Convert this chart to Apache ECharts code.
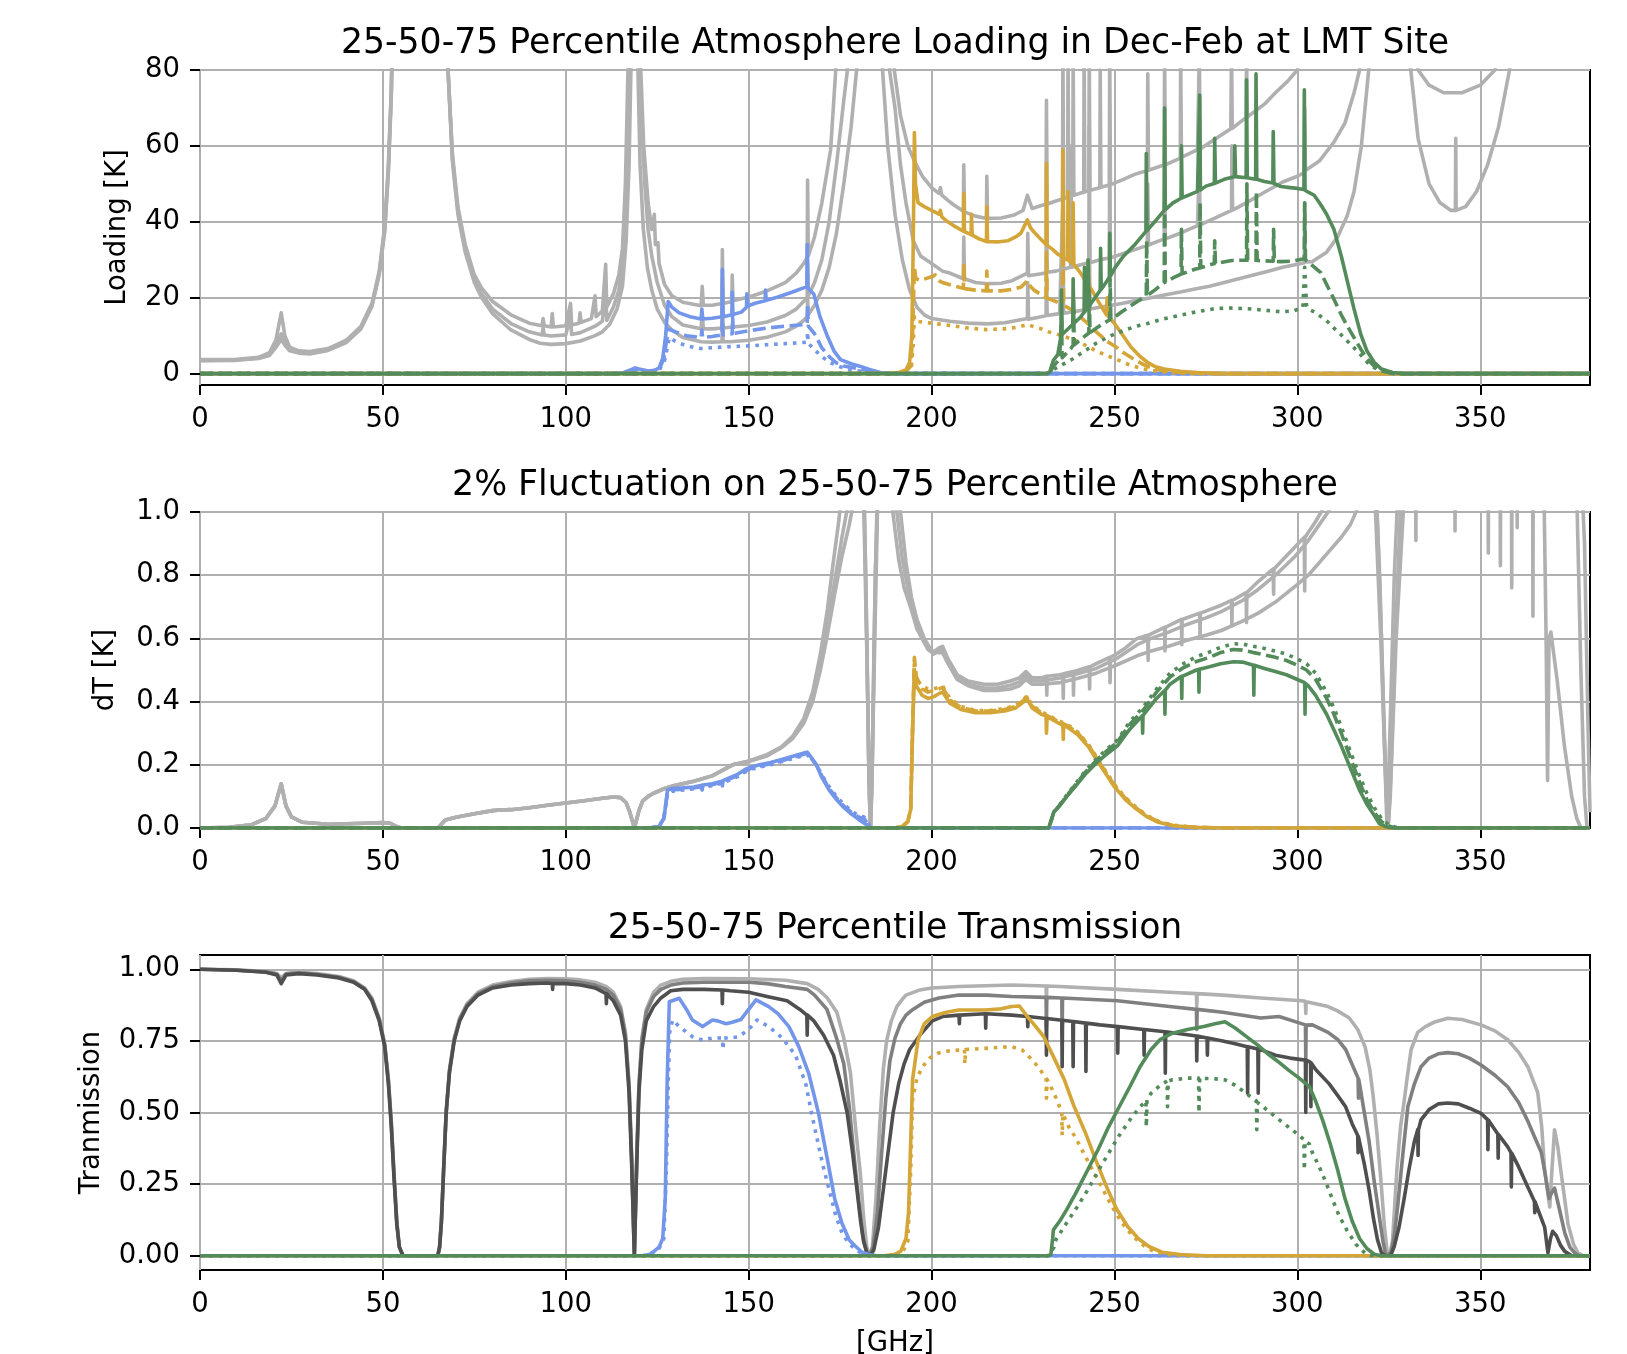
<!DOCTYPE html>
<html>
<head>
<meta charset="utf-8">
<script src="https://cdn.jsdelivr.net/npm/echarts@6/dist/echarts.min.js"></script>
<style>
  html, body { margin: 0; padding: 0; background: #fff; }
  #chart { width: 1627px; height: 1354px; }
</style>
</head>
<body>
<div id="chart"></div>
<script>
// tick labels
const ticksX = [0, 50, 100, 150, 200, 250, 300, 350]
const ticksLoad = [0, 20, 40, 60, 80]
const ticksDT = [0, 0.2, 0.4, 0.6, 0.8, 1.0]
const ticksTr = [0, 0.25, 0.5, 0.75, 1.0]

// ---- panel 1: atmosphere loading [K] ----
const loadGrayHi = [[0,3.7],[10,3.8],[16,4.3],[19,5.5],[20.8,9],[22.2,16],[23.2,10],[24.5,7],[27,6],[30,5.8],[35,6.6],[40,8.8],[44,12.5],[47,18.5],[49,27],[50.5,39],[51.5,55],[52.3,75],[53,110],[60,300],[67,110],[67.8,80],[69,58],[70.5,44],[72.5,34],[75,26],[77,22.5],[80,19],[85,15.5],[90,13.3],[93.5,12.6],[93.8,14.5],[94.1,12.6],[96,12.3],[96.3,15.8],[96.6,12.3],[100,12.6],[101.3,18.5],[101.6,12.8],[103.6,13.3],[103.9,16],[104.2,13.5],[107,14.5],[108,20.5],[108.3,15],[110,16.5],[110.9,28.8],[111.2,17.5],[113,21],[114.5,26],[115.5,33],[116.3,50],[117,80],[118,150],[118.75,300],[119.5,150],[120.5,80],[121.3,60],[122.5,45],[123.5,38],[124.2,42],[124.5,34],[125.2,34.5],[125.5,29],[127,23.5],[129,20.5],[132,18.8],[137,17.9],[137.3,23],[137.6,18],[140,18],[142.7,18.5],[142.8,32.7],[143,18.5],[145.4,19],[145.5,26],[145.7,19.2],[150,20.2],[152,20.8],[155,21.8],[160,24],[163,26.5],[165,29],[166,30.5],[166.1,51],[166.3,31],[168,36],[170,45],[172.4,59],[173.8,80],[175,120],[183,400],[189,120],[189.8,80],[191.5,68],[193.5,60],[195.3,56],[197.5,52],[200,49],[202,47.5],[202.4,49],[202.8,47],[204.4,45.7],[206,44.5],[208.7,42.8],[208.8,55],[209,42.6],[212,41.5],[215,40.9],[215.1,52],[215.3,40.9],[219,41],[222.6,41.8],[225,43],[226.2,47],[227.5,43.5],[230,44.3],[231.3,44.6],[231.4,72],[231.6,44.7],[234,45.5],[235.8,46],[235.9,85],[236.1,46],[237.2,46.6],[237.3,85],[237.5,46.6],[238.6,47],[238.7,85],[238.9,47],[240.5,47.5],[241.6,47.8],[241.7,85],[241.9,47.9],[243,48.3],[243.1,85],[243.3,48.3],[246,49],[246.1,80],[246.3,49.1],[248.6,49.7],[248.7,85],[248.9,49.8],[252,51],[255.5,52.5],[259,53.5],[259.1,79],[259.3,53.6],[263.6,55],[263.7,85],[263.9,55],[268,56.8],[268.1,85],[268.3,57],[272.7,59],[273.2,85],[273.4,59.2],[277,61.5],[281.8,64.5],[282,85],[282.2,64.6],[286,67.5],[286.1,85],[286.3,67.6],[291,71],[294,74],[297.3,77],[300,80],[302,90],[310,130],[325,300],[340,200],[360,300],[380,300]]
const loadGrayMid = [[0,3.5],[10,3.6],[16,4.1],[19,5.1],[20.8,7.8],[22.2,10.5],[23.2,8.2],[24.5,6.3],[27,5.6],[30,5.4],[35,6.3],[40,8.4],[44,12],[47,18],[49,26.5],[50.5,38],[51.5,54],[52.3,74],[53,110],[60,300],[67,110],[67.8,80],[69,57],[70.5,43],[72.5,33],[75,25],[77,21],[80,17],[85,13.2],[90,11],[93.5,10.2],[93.8,12],[94.1,10.2],[96,9.9],[100,10.2],[101.3,15],[101.6,10.3],[104,10.8],[108,12.5],[110,13.8],[110.9,22],[111.2,14],[113,17.5],[114.5,22],[115.5,28],[116.3,42],[117,65],[117.5,90],[118.75,300],[120,90],[120.8,65],[121.6,50],[122.5,38],[123.5,31],[125,24],[127,18],[129,15],[132,12.8],[137,11.8],[137.3,16],[137.6,11.8],[140,11.8],[142.7,12],[142.8,25],[143,12],[145,12.2],[150,12.7],[155,13.6],[160,15.3],[163,17],[165,19],[166,20],[166.1,30],[166.3,20.5],[168,24],[170,30],[172,40],[174,55],[176,72],[177,80],[178,100],[183,400],[187,100],[188.5,80],[190,70],[191.5,55],[193,45],[195,35],[197,31],[200,29],[203,27],[205,26.5],[208.7,25],[208.8,36],[209,25],[212,24],[215.3,23.7],[219,23.8],[222,24.5],[226.2,26.5],[226.3,37],[226.5,25.8],[230,26.3],[231.3,26.6],[231.4,45],[231.6,26.7],[234,27],[235.8,27.5],[235.9,70],[236.1,27.5],[238,28],[238.1,60],[238.3,28],[240.5,28.6],[243,29.2],[243.1,65],[243.3,29.2],[246,30],[248.6,30.5],[248.7,60],[248.9,30.5],[252,31.5],[256,32.8],[259,33.8],[259.1,50],[259.3,33.9],[263.6,35.5],[263.7,60],[263.9,35.5],[268,37],[272.7,39],[273.2,55],[273.4,39.2],[277,40.8],[282,43],[282.1,60],[282.3,43.1],[286,45],[291,47.8],[296,50.5],[300,52],[301.9,53],[302,70],[302.2,53.5],[306,56],[310,61],[313,66],[315.5,74],[317,80],[318,90],[325,300],[331,90],[333,80],[336,76],[340,74],[345,74],[350,76],[354,80],[356,95],[362,300],[380,300]]
const loadGrayLo = [[0,3.4],[10,3.5],[16,4],[19,4.8],[20.8,7],[22.2,9],[23.2,7.5],[24.5,6],[27,5.4],[30,5.2],[35,6.1],[40,8.2],[44,11.8],[47,17.7],[49,26],[50.5,37.5],[51.5,53],[52.3,73],[53,110],[60,300],[67,110],[67.8,80],[69,56],[70.5,42],[72.5,32],[75,24],[77,20],[80,15.8],[85,11.5],[90,9],[93,8],[96,7.7],[100,7.9],[104,8.6],[108,10],[110,11],[112,13],[114,17],[115.5,23],[116.5,35],[117.3,55],[118,90],[118.75,300],[119.5,90],[120.3,55],[121.2,38],[122.3,28],[123.5,22],[125,17],[127,13.5],[129,11.5],[132,9.5],[137,8.4],[140,8.3],[142.7,8.4],[142.8,14],[143,8.4],[145,8.4],[150,8.8],[155,9.6],[160,11],[163,12.5],[165,14],[166,15],[166.1,20],[166.3,15.5],[168,18],[170,22],[172,28],[174,37],[176,50],[178,65],[179.5,80],[181,110],[183,400],[185,110],[186.6,80],[188,60],[190,42],[192,30],[194,22],[196,17.5],[198,15.5],[200,14.5],[205,13.8],[210,13.3],[215.3,13.1],[220,13.4],[226.2,14.5],[226.3,24],[226.5,14.3],[230,15],[231.3,15.3],[231.4,30],[231.6,15.3],[235,15.8],[235.9,45],[236.1,15.9],[238,16.2],[240,16.5],[243,17],[243.1,40],[243.3,17],[248,17.8],[252,18.5],[256,19.3],[260,20],[264,20.8],[268,21.5],[272,22.3],[276,23],[280,24],[284,25],[288,26],[292,27],[296,28],[300,28.8],[301.9,29.2],[302,45],[302.2,29.4],[304,29.5],[308,32],[311,36],[313.6,41.5],[315.5,48],[317.5,60],[319.5,80],[321,110],[325,300],[328,110],[331,80],[333,62],[336,50],[339,45],[342,43],[343.2,43],[343.3,62],[343.4,43],[346,44],[349,48],[352,55],[355,65],[358,80],[360,110],[366,300],[380,300]]

const loadBlueSolid = [[0,0],[114,0],[116,0.3],[118,1.1],[119,1.5],[120,1.2],[122,0.8],[124,0.7],[125.5,1.5],[126.5,4],[127.3,10],[128,19],[129,17.5],[131,16],[134,15],[137,14.4],[137.2,17],[137.4,14.4],[140,14.6],[142.7,15],[142.8,27.5],[143,15],[145.4,15.5],[145.5,21.5],[145.7,15.6],[148,16.2],[149.4,17.5],[149.5,21],[149.7,17.8],[152,18.6],[154.5,19.2],[154.6,22],[154.8,19.3],[158,20.2],[162,21.5],[165,22.6],[165.9,23],[166,34],[166.2,22.5],[167.8,21],[169.5,15],[171.5,9.9],[173.3,6],[175.1,3.7],[178,2.6],[180.6,1.9],[183,1.1],[186,0.3],[188,0],[380,0]]
const loadBlueDash = [[0,0],[114,0],[118,0.8],[119,1.1],[122,0.6],[125.5,1],[126.8,4],[127.6,9],[128.2,11.7],[130,11],[133,10],[137,9.5],[137.2,11.5],[137.4,9.5],[140,9.8],[142.7,10.2],[142.8,17],[143,10.2],[145.5,10.5],[145.6,15],[145.8,10.6],[150,11.3],[155,12],[160,12.5],[165,12.9],[166,13.2],[166.1,18],[166.3,12.5],[168,10.5],[170,6.8],[172,4.5],[174,2.8],[176,2],[180,1.3],[183,0.7],[186,0.1],[188,0],[380,0]]
const loadBlueDot = [[0,0],[114,0],[118,0.6],[119,0.9],[122,0.5],[125.5,0.8],[127,3.5],[127.8,7],[128.3,9.5],[130,8.5],[133,7.3],[137,6.6],[140,6.8],[142.7,7],[145,7.1],[150,7.3],[155,7.6],[160,7.9],[165,8.2],[166,8.3],[166.1,11],[166.3,8],[168,6.3],[170,4.5],[172,3],[175,1.8],[178,1],[182,0.4],[186,0],[380,0]]

const loadGoldSolid = [[0,0],[188,0],[191,0.3],[193,1],[194,3],[194.6,10],[195,35],[195.3,63.5],[195.6,50],[196.3,45],[198,44],[200,43],[202,42],[202.4,43],[202.8,41.3],[204.4,40],[206,39],[208.7,37.5],[208.8,47.5],[209,37.4],[210.8,36.6],[210.9,42],[211.1,36.5],[213,35.5],[215,34.8],[215.1,44],[215.3,34.8],[218,34.7],[220.8,35],[223,36],[224.4,37],[226.2,40.5],[227,38.5],[228,37.3],[230,35.3],[231.3,34],[231.4,55.4],[231.6,33.8],[233,32.8],[234.5,31.5],[235.8,30.8],[235.9,58.9],[236.1,30.5],[237.2,30],[237.3,48],[237.5,29.8],[238.6,29],[238.7,45],[238.9,28.8],[240.8,26.4],[242.7,23.6],[242.8,30],[243,23.3],[245.4,19.3],[247.8,15.5],[248,20],[248.2,15.2],[250,13.2],[252,10.5],[254.5,7],[257,4.5],[259,3],[261,1.9],[263.6,1.2],[268,0.6],[272.7,0.3],[280,0],[380,0]]
const loadGoldDash = [[0,0],[190,0],[193,0.5],[194.3,2],[194.8,10],[195.3,28],[195.7,25],[197,24.6],[200,25.5],[201,26],[202,24.5],[203,24],[205,23.4],[208.7,22.5],[208.8,29],[209,22.4],[212,22],[215,21.8],[215.1,27],[215.3,21.8],[219,21.8],[222,22.2],[224.5,22.8],[226.2,24.5],[227,23],[228,22],[230,20.8],[231.3,20],[231.4,32],[231.6,19.9],[234,19],[235.8,18.2],[235.9,35],[236.1,18],[238,17],[240,15.5],[242.7,13.2],[245,11],[248,8.5],[250,7.3],[252.5,5.5],[255,4],[257.5,2.6],[260,1.5],[263,0.8],[268,0.3],[275,0],[380,0]]
const loadGoldDot = [[0,0],[190,0],[193,0.3],[194.5,2],[195,8],[195.3,15],[196,13.8],[198,13.5],[200,13.3],[205,12.7],[210,12],[215,11.6],[220,11.8],[224,12.3],[226.2,13],[228,12.3],[230,11.8],[232,11],[235,10.2],[238,9.2],[240,8.5],[243,7],[245,6],[248,4.7],[250,4],[253,2.7],[255,2],[258,1.2],[260,0.8],[265,0.3],[270,0],[380,0]]

const loadGreenSolid = [[0,0],[231.5,0],[232.3,0.4],[232.8,2],[233.3,3.5],[234.5,5],[235.4,10],[235.5,22],[235.7,10.3],[237,11.5],[238.6,13],[238.7,25],[238.9,13.2],[240.8,15],[241.7,16.2],[241.8,28],[242,16.4],[242.7,17.5],[242.8,30],[243,17.7],[245.4,21],[246.1,22],[246.2,33],[246.4,22.2],[248,24.5],[248.6,25.5],[248.7,37],[248.9,25.7],[250.2,28],[252.5,31],[255.4,33.8],[258.6,37.5],[258.7,58],[258.9,37.7],[261,40],[263.6,43],[263.7,70],[263.9,43.2],[266,45],[268.2,46.2],[268.3,60],[268.5,46.3],[272.7,48],[273.2,48.3],[273.3,73.4],[273.5,48.4],[275,49.4],[277.3,50.1],[277.4,62],[277.6,50.2],[280,51.2],[282.8,51.9],[282.9,60],[283.1,51.9],[286,51.6],[286.1,77.4],[286.3,51.6],[288.6,51.2],[288.7,79],[288.9,51.2],[291,50.6],[293.3,50.2],[293.4,63.8],[293.6,50.1],[295.5,49.3],[298,49],[300,48.8],[301.8,48.5],[301.9,74.8],[302.1,48.3],[303,47.8],[304.6,47],[306.4,44.5],[308,42],[310,38],[312,31],[314,23],[315.5,17],[317.3,10.5],[319,6],[321,3],[323,1.2],[326,0.3],[329,0],[380,0]]
const loadGreenDash = [[0,0],[231.5,0],[232.5,0.5],[233.3,2],[235,3.8],[235.4,4],[235.5,15],[235.7,4.2],[238,6.5],[238.7,7.5],[238.8,20],[239,7.6],[241,9.2],[243,10.7],[243.1,22],[243.3,10.8],[245.5,12.3],[248,13.8],[248.7,14.2],[248.8,25],[249,14.3],[250.2,15],[252,16.3],[255.4,18.5],[258.7,20.5],[258.8,35],[259,20.6],[261,22],[263.6,24],[263.7,45],[263.9,24.1],[266,25.2],[268.2,26.2],[268.3,38],[268.5,26.3],[272,27.5],[273.3,27.8],[273.4,45],[273.6,27.9],[277.3,29],[277.4,35],[277.6,29],[282,29.8],[286.1,29.9],[286.2,50],[286.4,29.9],[288.7,29.9],[288.8,48],[289,29.8],[293.4,29.6],[293.5,38],[293.7,29.6],[295.5,29.5],[298,29.6],[300.5,30],[301.9,30.3],[302,45],[302.2,30],[303.5,29],[306.4,26.6],[308,23.5],[310,19.6],[312,15.5],[313.6,12.6],[315.5,9.5],[317.3,6.5],[319,4],[320.9,2.1],[323,0.8],[326,0],[380,0]]
const loadGreenDot = [[0,0],[231.5,0],[232.5,0.3],[233.5,1.2],[236,2.5],[238,3.5],[240.8,5.3],[243,6.7],[245,8],[248,9.5],[250.2,10.5],[253,11.5],[256,12.5],[259,13.2],[263,14.3],[268.2,15.4],[272,16.2],[277.3,17.1],[281,17.3],[286.4,17.1],[290,16.8],[295.5,16.3],[299,16.5],[301.5,17.5],[302,28],[302.5,18],[303,17],[305,16.1],[308.5,13.5],[310,12],[312.2,10],[315,7.3],[317,5.3],[319.1,3],[321,1.6],[323,0.7],[326,0.1],[330,0],[380,0]]

// ---- panel 2: 2% fluctuation dT [K] ----
const dtGrayHi = [[0,0],[8,0.002],[14,0.01],[18,0.03],[20.5,0.07],[22.2,0.14],[23.5,0.07],[25,0.035],[28,0.018],[35,0.012],[45,0.015],[50,0.017],[52,0.015],[53.5,0.006],[55,0],[65,0],[65.7,0.008],[67,0.025],[70,0.034],[75,0.045],[80,0.055],[82,0.057],[85,0.058],[90,0.064],[95,0.072],[100,0.079],[105,0.086],[110,0.094],[113,0.098],[115,0.096],[116.5,0.08],[117.5,0.05],[118.4,0.015],[118.75,0],[119.2,0.02],[120,0.055],[121,0.085],[122.5,0.1],[124,0.11],[127,0.125],[130,0.135],[135,0.148],[140,0.165],[145.6,0.2],[150,0.212],[155,0.232],[159,0.257],[162,0.29],[165,0.345],[167.5,0.43],[169.6,0.55],[171.5,0.69],[173,0.83],[174.5,0.96],[175.4,1.05],[177,1.3],[180,1.4],[181.5,1.1],[182.3,0.6],[182.9,0.15],[183.3,0],[183.7,0.15],[184.3,0.6],[185.2,1.1],[186.5,1.4],[188,1.2],[189.4,1.0],[191,0.85],[192.5,0.76],[194.5,0.69],[196,0.63],[197.4,0.6],[199,0.565],[200.3,0.555],[202,0.57],[203,0.575],[204.5,0.535],[207,0.485],[210,0.465],[214.3,0.455],[218,0.455],[221.5,0.465],[224,0.475],[225.8,0.495],[227.5,0.475],[230,0.475],[231.4,0.48],[231.5,0.42],[231.6,0.48],[235,0.485],[235.9,0.487],[236,0.41],[236.1,0.488],[238.7,0.495],[238.8,0.42],[238.9,0.495],[240.3,0.5],[243.1,0.51],[243.2,0.44],[243.3,0.51],[245,0.52],[248.7,0.54],[248.8,0.46],[248.9,0.54],[250.4,0.55],[253,0.57],[256.2,0.6],[259.1,0.61],[259.2,0.53],[259.3,0.61],[263.7,0.635],[263.8,0.56],[263.9,0.635],[268.3,0.66],[268.4,0.58],[268.5,0.66],[273.3,0.68],[273.4,0.6],[273.5,0.68],[279.2,0.705],[282,0.72],[282.1,0.64],[282.2,0.72],[286,0.745],[286.1,0.65],[286.2,0.745],[289.3,0.78],[293.4,0.82],[293.5,0.74],[293.6,0.82],[299.4,0.89],[301.9,0.92],[302,0.75],[302.1,0.92],[305,0.97],[307,1.01],[310,1.1],[318,1.3],[321,1.2],[322.5,0.8],[323.7,0.3],[324.5,0],[325.3,0.3],[326.5,0.8],[328,1.2],[330,1.4],[332.3,1.3],[332.4,0.91],[332.5,1.3],[343,1.3],[343.1,0.94],[343.2,1.3],[352.1,1.3],[352.2,0.87],[352.3,1.3],[358.5,1.3],[358.6,0.76],[358.7,1.3],[364.3,1.3],[364.4,0.67],[364.5,1.3],[366.5,1.2],[367.5,1.0],[368,0.6],[368.4,0.15],[368.8,0.6],[369.3,0.62],[369.8,0.62],[371,0.47],[373,0.26],[375,0.1],[376.4,0.03],[377.5,0],[380,0]]
const dtGrayMid = [[0,0],[8,0.002],[14,0.01],[18,0.03],[20.5,0.07],[22.2,0.14],[23.5,0.07],[25,0.035],[28,0.018],[35,0.012],[45,0.015],[50,0.017],[52,0.015],[53.5,0.006],[55,0],[65,0],[65.7,0.008],[67,0.025],[70,0.034],[75,0.045],[80,0.055],[82,0.057],[85,0.058],[90,0.064],[95,0.072],[100,0.079],[105,0.086],[110,0.094],[113,0.098],[115,0.096],[116.5,0.08],[117.5,0.05],[118.4,0.015],[118.75,0],[119.2,0.02],[120,0.055],[121,0.085],[122.5,0.1],[124,0.11],[127,0.125],[130,0.135],[135,0.148],[140,0.165],[145.6,0.2],[150,0.211],[155,0.23],[159,0.255],[162,0.285],[165,0.335],[167.5,0.41],[169.6,0.52],[171.5,0.64],[173.5,0.78],[175.5,0.92],[177.6,1.05],[179,1.3],[181,1.3],[182,0.8],[182.8,0.2],[183.3,0],[183.8,0.2],[184.6,0.8],[186,1.3],[189,1.3],[190.5,1.0],[192,0.85],[193.5,0.76],[195,0.68],[197,0.61],[199,0.57],[200.5,0.55],[202,0.56],[203,0.565],[204.5,0.53],[207,0.475],[210,0.455],[214.3,0.443],[218,0.443],[221.5,0.452],[224,0.462],[225.8,0.485],[227.5,0.465],[230,0.465],[235,0.475],[240.3,0.49],[245,0.505],[250.4,0.535],[256.2,0.58],[260,0.6],[264.8,0.62],[270,0.645],[275,0.665],[279.2,0.685],[285,0.72],[289.3,0.755],[294,0.8],[299.4,0.86],[303,0.91],[306,0.96],[309,1.01],[312,1.1],[319,1.3],[321.5,1.1],[323,0.6],[324.2,0.15],[324.8,0],[325.5,0.15],[326.8,0.6],[328.5,1.1],[331,1.4],[355.4,1.3],[355.5,0.83],[355.6,1.3],[360,1.3],[360.1,0.95],[360.2,1.3],[375,1.3],[376.5,1.0],[377.5,0.5],[378.5,0.1],[379.2,0],[380,0]]
const dtGrayLo = [[0,0],[8,0.002],[14,0.01],[18,0.03],[20.5,0.07],[22.2,0.14],[23.5,0.07],[25,0.035],[28,0.018],[35,0.012],[45,0.015],[50,0.017],[52,0.015],[53.5,0.006],[55,0],[65,0],[65.7,0.008],[67,0.025],[70,0.034],[75,0.045],[80,0.055],[82,0.057],[85,0.058],[90,0.064],[95,0.072],[100,0.079],[105,0.086],[110,0.094],[113,0.098],[115,0.096],[116.5,0.08],[117.5,0.05],[118.4,0.015],[118.75,0],[119.2,0.02],[120,0.055],[121,0.085],[122.5,0.1],[124,0.11],[127,0.125],[130,0.135],[135,0.148],[140,0.165],[145.6,0.2],[150,0.21],[155,0.228],[159,0.255],[162,0.283],[165,0.33],[167.5,0.4],[169.6,0.5],[171.5,0.61],[173.5,0.74],[175.5,0.86],[177.5,0.96],[179,1.05],[180.5,1.3],[181.5,1.0],[182.4,0.5],[183,0.1],[183.3,0],[183.6,0.1],[184.3,0.5],[185.2,1.0],[186.5,1.3],[190,1.3],[191.5,1.0],[193,0.84],[194.5,0.73],[196,0.66],[198,0.6],[200,0.56],[202,0.555],[203,0.555],[204.5,0.52],[207,0.47],[210,0.45],[214.3,0.435],[218,0.435],[221.5,0.44],[224,0.45],[225.8,0.47],[227.5,0.455],[230,0.455],[235,0.46],[240.3,0.475],[245,0.49],[250.4,0.515],[256.2,0.545],[260,0.56],[264.8,0.575],[270,0.595],[275,0.61],[279.2,0.625],[285,0.655],[289.3,0.68],[294,0.715],[299.4,0.765],[303,0.8],[306,0.84],[309,0.88],[312,0.92],[314.5,0.96],[316.4,1.01],[319,1.15],[321,1.1],[322.8,0.6],[324.3,0.1],[324.8,0],[325.4,0.1],[327,0.6],[329.2,1.05],[331,1.3],[377,1.3],[378.5,0.9],[379.5,0.3],[380,0.05]]

const dtBlueSolid = [[0,0],[123,0],[125.5,0.005],[126.8,0.03],[127.4,0.08],[127.8,0.12],[129,0.125],[132,0.127],[135,0.13],[137.2,0.135],[137.3,0.12],[137.5,0.136],[140,0.14],[142.7,0.148],[142.8,0.133],[143,0.15],[145,0.16],[147,0.17],[149,0.185],[150.5,0.192],[153,0.2],[156,0.207],[160,0.22],[163,0.23],[165,0.237],[166,0.24],[167,0.225],[168.5,0.2],[170,0.16],[172,0.12],[174,0.09],[176,0.065],[178,0.045],[180,0.028],[182,0.012],[183.3,0],[380,0]]
const dtBlueDash = [[0,0],[123,0],[125.5,0.005],[126.8,0.03],[127.4,0.08],[127.8,0.115],[129,0.12],[132,0.123],[135,0.127],[140,0.137],[142.7,0.145],[145,0.156],[147,0.166],[149,0.18],[150.5,0.188],[153,0.196],[156,0.203],[160,0.216],[163,0.226],[165,0.233],[166,0.236],[167,0.222],[168.5,0.2],[170,0.165],[172,0.125],[174,0.095],[176,0.07],[178,0.05],[180,0.035],[181.5,0.03],[182.5,0.015],[183.3,0],[380,0]]
const dtBlueDot = [[0,0],[123,0],[125.5,0.005],[126.8,0.03],[127.4,0.08],[127.8,0.11],[129,0.116],[132,0.12],[135,0.124],[140,0.134],[142.7,0.142],[145,0.153],[147,0.163],[149,0.177],[150.5,0.185],[153,0.193],[156,0.2],[160,0.213],[163,0.223],[165,0.229],[166,0.232],[167,0.22],[168.5,0.2],[170,0.168],[172,0.13],[174,0.1],[176,0.075],[178,0.055],[180,0.04],[181.5,0.035],[182.5,0.02],[183.3,0],[380,0]]

const dtGoldSolid = [[0,0],[190,0],[192,0.005],[193.5,0.02],[194.3,0.06],[194.8,0.3],[195.3,0.5],[195.8,0.45],[197.4,0.42],[199,0.41],[200.5,0.415],[202,0.425],[203,0.43],[205,0.395],[208,0.375],[212,0.365],[216,0.365],[220,0.37],[223,0.38],[225.3,0.4],[226,0.41],[227.5,0.38],[230,0.36],[231.3,0.355],[231.4,0.3],[231.6,0.352],[235,0.33],[235.9,0.325],[236,0.28],[236.1,0.322],[237,0.32],[240,0.295],[243,0.255],[246,0.2],[248,0.165],[250,0.13],[253,0.09],[256,0.06],[259,0.035],[262,0.018],[266,0.007],[272,0.002],[280,0],[380,0]]
const dtGoldDash = [[0,0],[190,0],[192,0.005],[193.5,0.02],[194.3,0.06],[194.8,0.32],[195.3,0.54],[195.8,0.48],[197.4,0.44],[199,0.43],[200.5,0.435],[202,0.44],[203,0.445],[205,0.405],[208,0.382],[212,0.37],[216,0.37],[220,0.375],[223,0.385],[225.3,0.405],[226,0.415],[227.5,0.385],[230,0.365],[232,0.353],[235,0.335],[237,0.325],[240,0.3],[243,0.26],[246,0.205],[248,0.17],[250,0.135],[253,0.094],[256,0.063],[259,0.037],[262,0.02],[266,0.008],[272,0.002],[280,0],[380,0]]
const dtGoldDot = [[0,0],[190,0],[192,0.005],[193.5,0.02],[194.3,0.06],[194.8,0.31],[195.3,0.53],[195.8,0.47],[197.4,0.45],[199,0.44],[200.5,0.44],[202,0.445],[203,0.45],[205,0.41],[208,0.385],[212,0.372],[216,0.372],[220,0.378],[223,0.388],[225.3,0.408],[226,0.418],[227.5,0.388],[230,0.368],[232,0.356],[235,0.338],[237,0.328],[240,0.303],[243,0.263],[246,0.208],[248,0.173],[250,0.138],[253,0.096],[256,0.065],[259,0.039],[262,0.021],[266,0.009],[272,0.002],[280,0],[380,0]]

const dtGreenSolid = [[0,0],[232,0],[232.6,0.02],[233.4,0.05],[235,0.07],[237,0.1],[239.2,0.13],[242,0.17],[245,0.205],[248,0.235],[250.8,0.26],[254,0.31],[257.6,0.355],[257.7,0.3],[257.8,0.356],[261.5,0.41],[263.7,0.435],[263.8,0.36],[263.9,0.436],[265.2,0.455],[268.3,0.48],[268.4,0.41],[268.5,0.48],[272.4,0.5],[273,0.502],[273.1,0.43],[273.2,0.502],[276,0.51],[279,0.52],[282.5,0.526],[285,0.525],[288,0.515],[288.1,0.42],[288.2,0.515],[291,0.505],[294,0.495],[297,0.485],[300,0.47],[302,0.46],[302.1,0.36],[302.2,0.458],[303,0.45],[305,0.42],[308,0.36],[310,0.31],[312,0.26],[315.2,0.17],[317,0.12],[319,0.075],[321,0.04],[322.4,0.014],[324,0.005],[326,0],[380,0]]
const dtGreenDash = [[0,0],[232,0],[232.6,0.02],[233.4,0.05],[235,0.072],[237,0.103],[239.2,0.135],[242,0.176],[245,0.213],[248,0.245],[250.8,0.272],[254,0.325],[258,0.375],[261.5,0.43],[265.2,0.478],[268.5,0.505],[272.4,0.527],[276,0.54],[279,0.555],[282.5,0.565],[285,0.563],[288,0.555],[291,0.548],[294,0.54],[297,0.53],[300,0.515],[302.5,0.5],[305,0.47],[308,0.41],[310,0.36],[312,0.3],[315.2,0.2],[317,0.145],[319,0.09],[321,0.05],[323,0.02],[325,0.006],[327,0],[380,0]]
const dtGreenDot = [[0,0],[232,0],[232.6,0.02],[233.4,0.05],[235,0.073],[237,0.105],[239.2,0.138],[242,0.18],[245,0.218],[248,0.25],[250.8,0.278],[254,0.333],[258,0.385],[261.5,0.44],[265.2,0.49],[268.5,0.518],[272.4,0.542],[276,0.557],[279,0.572],[282.5,0.583],[285,0.582],[288,0.575],[291,0.568],[294,0.56],[297,0.55],[300,0.535],[302.5,0.52],[305,0.49],[308,0.43],[310,0.38],[312,0.32],[315.2,0.22],[317,0.165],[319,0.11],[321,0.065],[323,0.03],[325,0.01],[327,0.002],[329,0],[380,0]]

// ---- panel 3: transmission ----
const trGrayLight = [[0,1.0],[10,0.998],[18,0.992],[21,0.985],[22.2,0.97],[23.5,0.985],[27,0.99],[32,0.985],[38,0.975],[42,0.96],[45,0.935],[47,0.9],[49,0.83],[50.5,0.74],[51.5,0.62],[52.3,0.47],[53,0.3],[53.8,0.12],[54.5,0.03],[55.5,0],[65,0],[65.5,0.03],[66,0.12],[66.6,0.3],[67.3,0.5],[68.2,0.65],[69.5,0.76],[71,0.83],[73,0.88],[76,0.92],[80,0.945],[85,0.957],[90,0.965],[95,0.968],[100,0.967],[104,0.963],[108,0.955],[111,0.94],[113,0.92],[115,0.87],[116.3,0.78],[117.3,0.6],[118,0.35],[118.75,0],[119.4,0.35],[120,0.6],[120.8,0.76],[122,0.86],[124,0.92],[126,0.945],[128.7,0.958],[132,0.965],[137.8,0.968],[150,0.967],[160,0.962],[166,0.95],[169,0.93],[171.5,0.9],[174.1,0.85],[176,0.76],[177.8,0.64],[179.2,0.45],[180.5,0.29],[181.5,0.12],[182.3,0.03],[183,0],[183.8,0.03],[184.8,0.2],[185.8,0.45],[186.8,0.65],[187.7,0.75],[189,0.82],[190.5,0.87],[192.3,0.9],[193,0.91],[196.8,0.928],[200,0.935],[207.5,0.94],[221.9,0.945],[231.3,0.942],[231.4,0.893],[231.5,0.942],[235,0.94],[250.8,0.93],[265,0.92],[272.4,0.915],[272.5,0.87],[272.6,0.915],[279.6,0.91],[290,0.9],[301.2,0.89],[302.2,0.888],[302.3,0.846],[302.4,0.887],[305,0.88],[308.4,0.87],[311,0.855],[314.2,0.83],[316.5,0.79],[318.5,0.73],[319.8,0.65],[320.7,0.56],[321.8,0.42],[322.8,0.27],[323.8,0.1],[324.5,0.02],[325.2,0],[326,0.05],[327.2,0.3],[328.2,0.45],[329.2,0.54],[330,0.62],[331.1,0.72],[332.9,0.78],[335,0.8],[337.3,0.815],[341.1,0.829],[345,0.825],[350.2,0.806],[354,0.785],[357.5,0.754],[360.5,0.71],[363,0.66],[365.7,0.57],[366.8,0.45],[367.6,0.3],[369,0.17],[369.6,0.3],[370.3,0.44],[371.2,0.38],[372.1,0.29],[374,0.11],[375.5,0.04],[376.7,0.01],[378,0],[380,0]]
const trGrayMid = [[0,1.0],[10,0.997],[18,0.991],[21,0.984],[22.2,0.96],[23.5,0.984],[27,0.988],[32,0.983],[38,0.972],[42,0.957],[45,0.932],[47,0.895],[49,0.825],[50.5,0.735],[51.5,0.61],[52.3,0.46],[53,0.29],[53.8,0.115],[54.5,0.03],[55.5,0],[65,0],[65.5,0.03],[66,0.12],[66.6,0.3],[67.3,0.5],[68.2,0.645],[69.5,0.755],[71,0.825],[73,0.875],[76,0.915],[80,0.94],[85,0.952],[90,0.96],[95,0.962],[100,0.96],[104,0.955],[108,0.945],[111,0.93],[113,0.91],[115,0.86],[116.3,0.77],[117.3,0.59],[118,0.34],[118.75,0],[119.4,0.34],[120,0.59],[120.8,0.75],[122,0.85],[124,0.905],[126,0.93],[128.7,0.945],[132,0.952],[137.8,0.955],[150,0.955],[155,0.95],[160,0.94],[166,0.93],[168,0.91],[171.4,0.86],[174,0.76],[176,0.67],[177.5,0.52],[178.8,0.35],[180,0.2],[181.2,0.07],[182.3,0.01],[183,0],[184,0.03],[185.2,0.15],[186.3,0.35],[187.5,0.55],[188.6,0.68],[190,0.76],[191.5,0.81],[193,0.84],[194.9,0.86],[198,0.885],[202,0.9],[207.5,0.91],[215,0.91],[221.9,0.905],[231.3,0.902],[231.4,0.8],[231.5,0.902],[235.6,0.9],[235.7,0.766],[235.8,0.9],[250.8,0.89],[265,0.87],[272.4,0.86],[272.5,0.79],[272.6,0.86],[279.6,0.85],[290,0.83],[295,0.835],[302.2,0.806],[302.3,0.69],[302.4,0.805],[304.1,0.806],[308.4,0.78],[311,0.755],[313.2,0.72],[316.6,0.62],[316.7,0.55],[316.8,0.615],[319.6,0.4],[321,0.26],[322.4,0.137],[323.4,0.05],[324.2,0],[325.6,0.01],[326.5,0.07],[327.4,0.17],[328.8,0.35],[330.2,0.52],[332,0.6],[333.8,0.66],[336,0.69],[338.5,0.705],[341.1,0.709],[344,0.705],[347,0.69],[350.2,0.666],[354,0.63],[357.5,0.59],[360.5,0.535],[363,0.47],[365,0.41],[366.7,0.36],[367.8,0.28],[368.8,0.2],[369.5,0.22],[370.3,0.236],[371.5,0.17],[373.1,0.08],[374.5,0.03],[375.8,0.01],[377,0],[380,0]]
const trGrayDark = [[0,1.0],[10,0.997],[18,0.99],[21,0.98],[22.2,0.95],[23.5,0.98],[27,0.985],[32,0.98],[38,0.97],[42,0.955],[45,0.93],[47,0.89],[49,0.82],[50.5,0.73],[51.5,0.6],[52.3,0.45],[53,0.28],[53.8,0.11],[54.5,0.03],[55.5,0],[65,0],[65.5,0.03],[66,0.12],[66.6,0.3],[67.3,0.5],[68.2,0.64],[69.5,0.75],[71,0.82],[73,0.87],[76,0.91],[80,0.935],[85,0.945],[90,0.95],[95,0.952],[96.3,0.95],[96.4,0.93],[96.5,0.95],[100,0.95],[104,0.945],[108,0.935],[111,0.915],[111.1,0.88],[111.2,0.915],[113,0.89],[115,0.84],[116.3,0.75],[117.3,0.57],[118,0.32],[118.75,0],[119.4,0.32],[120,0.57],[120.8,0.72],[122,0.82],[124,0.87],[126,0.9],[128.7,0.925],[132,0.93],[137.8,0.93],[142.7,0.928],[142.8,0.88],[142.9,0.928],[145,0.925],[150,0.92],[155,0.905],[160.5,0.89],[164,0.86],[165.9,0.84],[166,0.77],[166.1,0.84],[167.8,0.82],[170.5,0.77],[173.2,0.7],[175,0.61],[176.9,0.5],[178.3,0.37],[179.6,0.23],[180.6,0.12],[181.4,0.05],[182.3,0.01],[183.2,0],[184.2,0.02],[185.5,0.1],[187,0.25],[188.5,0.4],[189.5,0.5],[191,0.6],[192.5,0.67],[194,0.72],[196.8,0.77],[200.2,0.82],[203,0.835],[207.5,0.84],[207.6,0.81],[207.7,0.84],[214.7,0.845],[214.8,0.794],[214.9,0.845],[221.9,0.84],[226.2,0.835],[226.3,0.8],[226.4,0.835],[230,0.83],[231.3,0.828],[231.4,0.7],[231.5,0.828],[235.6,0.822],[235.7,0.66],[235.8,0.822],[238.6,0.818],[238.7,0.66],[238.8,0.818],[242.1,0.812],[242.2,0.643],[242.3,0.812],[246,0.806],[250.8,0.8],[250.9,0.707],[251,0.8],[258,0.79],[258.1,0.7],[258.2,0.79],[263.8,0.782],[263.9,0.637],[264,0.782],[268,0.775],[272.4,0.767],[272.5,0.68],[272.6,0.767],[275.3,0.76],[275.4,0.7],[275.5,0.76],[279.6,0.75],[283,0.74],[286.3,0.73],[286.4,0.567],[286.5,0.73],[289.2,0.722],[289.3,0.567],[289.4,0.722],[294,0.7],[298,0.69],[302.2,0.683],[302.3,0.5],[302.4,0.683],[303.6,0.675],[303.7,0.52],[303.8,0.673],[305,0.65],[308.7,0.6],[311,0.56],[313.2,0.52],[315,0.46],[316.5,0.42],[316.6,0.36],[316.7,0.415],[318.3,0.32],[319.6,0.23],[320.8,0.13],[321.9,0.056],[323,0.01],[324,0],[325.5,0],[326.5,0.033],[327.8,0.1],[329.2,0.2],[330.5,0.3],[332,0.4],[332.9,0.44],[333,0.35],[333.1,0.44],[333.8,0.474],[336,0.51],[338.5,0.53],[341.1,0.533],[344,0.53],[347,0.515],[350.2,0.497],[352,0.475],[352.1,0.37],[352.2,0.474],[354,0.44],[354.8,0.425],[354.9,0.34],[355,0.423],[357.5,0.38],[358.4,0.36],[358.5,0.24],[358.6,0.358],[360.5,0.31],[363,0.24],[364.8,0.19],[364.9,0.15],[365,0.188],[365.5,0.17],[367.6,0.1],[368.5,0.01],[369.2,0.06],[369.8,0.085],[370.8,0.07],[372,0.035],[373.1,0.015],[375,0],[380,0]]

const trBlueSolid = [[0,0],[121,0],[123,0.005],[124.1,0.015],[125.5,0.03],[126.5,0.06],[127.2,0.2],[127.7,0.6],[128.3,0.887],[131,0.899],[133,0.86],[134.6,0.823],[137.4,0.8],[140.1,0.823],[141.5,0.82],[143.8,0.81],[145.5,0.815],[147.9,0.825],[150,0.86],[152,0.893],[155.5,0.87],[158,0.845],[161,0.8],[163.7,0.73],[166.4,0.637],[169.1,0.497],[171.9,0.31],[173.5,0.2],[175.5,0.113],[177.5,0.055],[179.2,0.033],[181,0.012],[182.8,0.004],[185,0],[380,0]]
const trBlueDot = [[0,0],[121,0],[123,0.005],[125.5,0.025],[126.8,0.06],[127.5,0.3],[128,0.6],[128.4,0.78],[129.2,0.823],[131,0.8],[134.6,0.765],[137.4,0.753],[140,0.76],[142.8,0.76],[143,0.72],[143.2,0.76],[145,0.76],[147.3,0.765],[150,0.79],[152.3,0.823],[155.5,0.8],[159.2,0.76],[162.8,0.7],[165.6,0.6],[167.4,0.485],[170.2,0.32],[173.8,0.14],[175.5,0.08],[177.5,0.04],[181.1,0.005],[183,0],[380,0]]
const trGoldSolid = [[0,0],[187,0],[190,0.005],[191.6,0.016],[193,0.06],[193.7,0.15],[194.3,0.4],[194.8,0.614],[196.3,0.753],[198,0.81],[200.2,0.835],[204,0.85],[207.5,0.858],[214.7,0.858],[219,0.862],[221.9,0.87],[224,0.872],[226.2,0.835],[228.5,0.8],[230.6,0.766],[233.5,0.69],[236.3,0.614],[239,0.52],[242.1,0.428],[245,0.33],[247.8,0.242],[250.5,0.165],[253.6,0.102],[256.5,0.06],[259.4,0.032],[263,0.012],[268,0.004],[275,0],[380,0]]
const trGoldDot = [[0,0],[189,0],[192,0.01],[193.5,0.05],[194.3,0.3],[194.8,0.545],[196,0.62],[197.5,0.66],[199.5,0.69],[201.7,0.707],[204,0.714],[207.5,0.718],[209,0.72],[209.1,0.67],[209.3,0.72],[214.7,0.724],[218,0.727],[221.9,0.73],[224.8,0.718],[227,0.69],[229.1,0.66],[231.3,0.62],[231.4,0.55],[231.6,0.615],[233.5,0.567],[235,0.52],[235.6,0.5],[235.7,0.42],[235.9,0.495],[237.5,0.45],[239.2,0.416],[241.5,0.36],[243.5,0.311],[246.5,0.24],[249.3,0.172],[252,0.115],[255.1,0.067],[258,0.035],[260.8,0.015],[265,0.003],[270,0],[380,0]]
const trGreenSolid = [[0,0],[231.5,0],[232.6,0.003],[233.1,0.06],[233.3,0.09],[235,0.12],[236.9,0.16],[239.5,0.22],[242.7,0.3],[245.5,0.37],[248.4,0.45],[251.3,0.52],[254.2,0.59],[257,0.66],[260,0.72],[262.5,0.755],[265.8,0.777],[270,0.79],[274.4,0.8],[277.5,0.81],[280.2,0.817],[283,0.795],[286,0.766],[289,0.737],[291.7,0.707],[294.5,0.68],[297.5,0.649],[300.5,0.62],[303.3,0.59],[305,0.54],[307,0.47],[309,0.39],[311,0.3],[313,0.2],[315,0.12],[317,0.06],[319,0.025],[321,0.005],[323,0],[380,0]]
const trGreenDot = [[0,0],[232,0],[233.5,0.03],[234,0.056],[236.9,0.114],[239.8,0.17],[242.7,0.23],[245.5,0.295],[248.4,0.358],[251.3,0.42],[254.2,0.474],[257,0.52],[258.6,0.54],[258.7,0.45],[258.9,0.545],[260,0.567],[262.5,0.595],[264.4,0.61],[264.5,0.52],[264.7,0.61],[265.8,0.614],[270,0.62],[273,0.62],[273.1,0.5],[273.3,0.62],[274.4,0.619],[277,0.618],[280.2,0.614],[283,0.595],[286,0.567],[288.8,0.54],[288.9,0.44],[289.1,0.535],[291.7,0.509],[294.5,0.48],[297.5,0.45],[300.5,0.42],[301.8,0.405],[301.9,0.3],[302.1,0.4],[303.3,0.39],[304.1,0.36],[306,0.31],[307.8,0.256],[309.5,0.2],[311.4,0.14],[313.5,0.09],[316,0.04],[318.8,0.005],[320,0],[380,0]]

const COLORS = {
  gray: '#b0b0b0', grayMid: '#808080', grayDark: '#4f4f4f',
  blue: '#7396ea', gold: '#d4a537', green: '#548b5b'
}
const FONT = 'DejaVu Sans'
const LW = 3.6
const DASH = { solid: 'solid', dash: [13, 5.5], dot: [3.6, 5.8] }

// plot rectangles (px), same as the reference figure
const grids = [
  { left: 200, top: 70, width: 1390, height: 315 },
  { left: 200, top: 512, width: 1390, height: 316 },
  { left: 200, top: 955, width: 1390, height: 315 }
]

function line (idx, data, color, dash) {
  return {
    type: 'line',
    xAxisIndex: idx,
    yAxisIndex: idx,
    data: data,
    symbol: 'none',
    silent: true,
    clip: true,
    animation: false,
    lineStyle: { color: color, width: LW, type: DASH[dash], cap: 'butt', join: 'round' }
  }
}

function xAxis (idx, withName) {
  return {
    type: 'value',
    gridIndex: idx,
    min: 0,
    max: 380,
    name: withName ? '[GHz]' : '',
    nameLocation: 'middle',
    nameGap: 60,
    nameTextStyle: { fontFamily: FONT, fontSize: 27.5, color: '#000' },
    axisLine: { show: false, onZero: false },
    axisTick: { show: true, length: 10, customValues: ticksX, lineStyle: { color: '#000', width: 2 } },
    axisLabel: { customValues: ticksX, margin: 21, fontFamily: FONT, fontSize: 27.5, color: '#000' },
    splitLine: { show: true, lineStyle: { color: '#b0b0b0', width: 2 } }
  }
}

function yAxis (idx, name, gap, min, max, ticks, digits) {
  return {
    type: 'value',
    gridIndex: idx,
    min: min,
    max: max,
    name: name,
    nameLocation: 'middle',
    nameGap: gap,
    nameTextStyle: { fontFamily: FONT, fontSize: 27.5, color: '#000' },
    axisLine: { show: false },
    axisTick: { show: true, length: 10, customValues: ticks, lineStyle: { color: '#000', width: 2 } },
    axisLabel: {
      customValues: ticks,
      margin: 20,
      fontFamily: FONT,
      fontSize: 27.5,
      color: '#000',
      formatter: v => v.toFixed(digits)
    },
    splitLine: { show: true, lineStyle: { color: '#b0b0b0', width: 2 } }
  }
}

const series = [
  line(0, loadGrayHi, COLORS.gray, 'solid'),
  line(0, loadGrayMid, COLORS.gray, 'solid'),
  line(0, loadGrayLo, COLORS.gray, 'solid'),
  line(0, loadBlueSolid, COLORS.blue, 'solid'),
  line(0, loadBlueDash, COLORS.blue, 'dash'),
  line(0, loadBlueDot, COLORS.blue, 'dot'),
  line(0, loadGoldSolid, COLORS.gold, 'solid'),
  line(0, loadGoldDash, COLORS.gold, 'dash'),
  line(0, loadGoldDot, COLORS.gold, 'dot'),
  line(0, loadGreenSolid, COLORS.green, 'solid'),
  line(0, loadGreenDash, COLORS.green, 'dash'),
  line(0, loadGreenDot, COLORS.green, 'dot'),

  line(1, dtGrayHi, COLORS.gray, 'solid'),
  line(1, dtGrayMid, COLORS.gray, 'solid'),
  line(1, dtGrayLo, COLORS.gray, 'solid'),
  line(1, dtBlueSolid, COLORS.blue, 'solid'),
  line(1, dtBlueDash, COLORS.blue, 'dash'),
  line(1, dtBlueDot, COLORS.blue, 'dot'),
  line(1, dtGoldSolid, COLORS.gold, 'solid'),
  line(1, dtGoldDash, COLORS.gold, 'dash'),
  line(1, dtGoldDot, COLORS.gold, 'dot'),
  line(1, dtGreenSolid, COLORS.green, 'solid'),
  line(1, dtGreenDash, COLORS.green, 'dash'),
  line(1, dtGreenDot, COLORS.green, 'dot'),

  line(2, trGrayLight, COLORS.gray, 'solid'),
  line(2, trGrayMid, COLORS.grayMid, 'solid'),
  line(2, trGrayDark, COLORS.grayDark, 'solid'),
  line(2, trBlueSolid, COLORS.blue, 'solid'),
  line(2, trBlueDot, COLORS.blue, 'dot'),
  line(2, trGoldSolid, COLORS.gold, 'solid'),
  line(2, trGoldDot, COLORS.gold, 'dot'),
  line(2, trGreenSolid, COLORS.green, 'solid'),
  line(2, trGreenDot, COLORS.green, 'dot')
]

const titles = [
  { text: '25-50-75 Percentile Atmosphere Loading in Dec-Feb at LMT Site', y: 43.5 },
  { text: '2% Fluctuation on 25-50-75 Percentile Atmosphere', y: 485.5 },
  { text: '25-50-75 Percentile Transmission', y: 928.5 }
]

const chart = echarts.init(document.getElementById('chart'), null, { renderer: 'canvas' })
chart.setOption({
  backgroundColor: '#fff',
  animation: false,
  grid: grids.map(g => Object.assign({
    show: true,
    borderColor: '#000',
    borderWidth: 2,
    backgroundColor: 'transparent',
    containLabel: false,
    outerBoundsMode: 'none'
  }, g)),
  xAxis: [xAxis(0, false), xAxis(1, false), xAxis(2, true)],
  yAxis: [
    yAxis(0, 'Loading [K]', 68, -3, 80, ticksLoad, 0),
    yAxis(1, 'dT [K]', 80, 0, 1, ticksDT, 1),
    yAxis(2, 'Tranmission', 94, -0.05, 1.05, ticksTr, 2)
  ],
  graphic: titles.map(t => ({
    type: 'text',
    x: 895,
    y: t.y,
    silent: true,
    style: { text: t.text, fontFamily: FONT, fontSize: 34.7, fill: '#000', align: 'center', verticalAlign: 'middle' }
  })),
  series: series
})
</script>
</body>
</html>
